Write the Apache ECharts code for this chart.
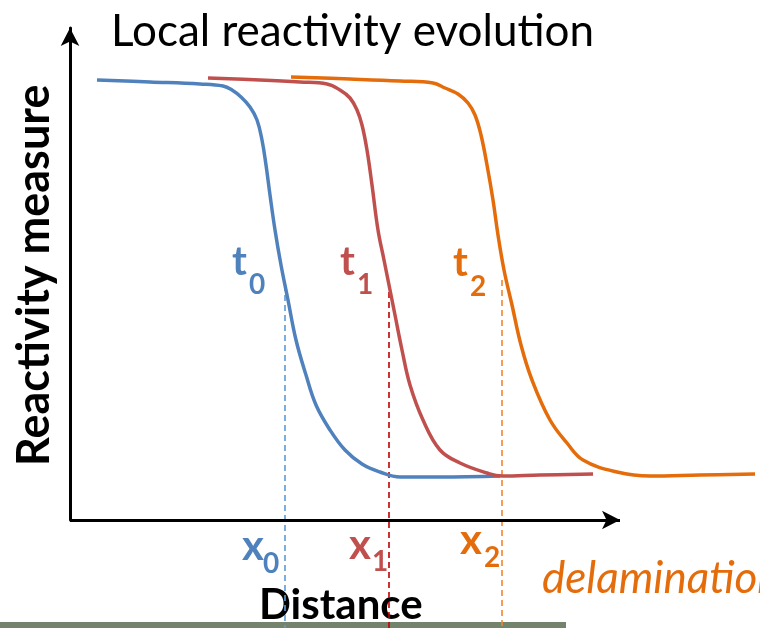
<!DOCTYPE html>
<html><head><meta charset="utf-8">
<script src="https://cdn.jsdelivr.net/npm/echarts@6/dist/echarts.min.js"></script>
<style>html,body{margin:0;padding:0;background:#fff}#c{width:760px;height:628px}</style>
</head><body><div id="c"></div>
<script>
// Schematic units: distance (x) and reactivity measure (y)
const blueCurve = [[27,440],[80,438],[130,436],[153,434],[162,430],[171,423],[180,413],[187,400],[192,380],[196,355],[200,325],[205,290],[211,255],[218,220],[226,180],[236,145],[246,115],[260,90],[275,70],[292,56],[310,48],[330,43],[370,43],[430,44]];
const redCurve = [[138,442],[190,440],[230,438],[257,436],[270,430],[280,422],[287,410],[292,395],[297,370],[302,335],[308,290],[314,260],[319,235],[325,205],[332,170],[340,135],[353,100],[370,70],[390,57],[417,47],[432,44],[470,45],[523,46]];
const orangeCurve = [[221,443],[280,441],[330,439],[363,437],[375,432],[388,426],[398,417],[405,405],[411,385],[417,355],[423,320],[428,285],[434,250],[442,215],[451,175],[462,140],[480,100],[497,77],[513,60],[547,48],[580,44],[630,45],[685,46]];
const markerX = [215, 319, 432];        // x0, x1, x2
const markerTop = [235, 238, 240];
const axisBottom = -108;
const distanceAxisEnd = 550;
const timeLabels = ['0','1','2'];
const colors = ['#4f81bd','#c0504d','#e46c0a'];
const dashColors = ['#5b9bd5','#c00000','#f0852d'];

const chart = echarts.init(document.getElementById('c'));
const series = [];
[blueCurve, redCurve, orangeCurve].forEach((d,i)=>{
  series.push({type:'line', data:d, smooth:0.4, symbol:'none', clip:false,
    lineStyle:{color:colors[i], width:3.5}, z:3});
});
markerX.forEach((x,i)=>{
  series.push({type:'line', data:[[x,markerTop[i]],[x,axisBottom]], symbol:'none', clip:false,
    lineStyle:{color:dashColors[i], width:1.6, type:[6,4]}, z:2});
});
// x-axis with arrow (as a markLine so the plot can extend beyond it)
series.push({type:'line', data:[], symbol:'none', silent:true, z:4,
  markLine:{silent:true, symbol:['none','arrow'], symbolSize:[14,18], label:{show:false},
    lineStyle:{color:'#000', width:3, type:'solid'}, emphasis:{disabled:true},
    data:[[{coord:[0,0]},{coord:[distanceAxisEnd,0]}]]}});

const tPos = [[232,242,249,271],[340,242,357,271],[453,243,470,273]];
const xPos = [[242,525,263,550],[349,524,372,548],[460,519,484,544]];
const graphic = [
  {type:'text', left:111, top:10, style:{text:'Local reactivity evolution', font:'44px Lato', fill:'#000'}},
  {type:'text', x:12, y:466, rotation:Math.PI/2, style:{text:'Reactivity measure', font:'bold 45px Lato', fill:'#000'}},
  {type:'text', left:259, top:584, style:{text:'Distance', font:'bold 42px Lato', fill:'#000'}},
  {type:'text', left:542, top:557, style:{text:'delamination', font:'italic 44px Lato', fill:'#e46c0a'}},
  {type:'rect', shape:{x:0,y:622,width:566,height:6}, style:{fill:'#74836c'}}
];
timeLabels.forEach((s,i)=>{
  const p = tPos[i], q = xPos[i];
  graphic.push({type:'text', left:p[0], top:p[1], style:{text:'t', font:'bold 40px Lato', fill:colors[i]}});
  graphic.push({type:'text', left:p[2], top:p[3], style:{text:s, font:'bold 28px Lato', fill:colors[i]}});
  graphic.push({type:'text', left:q[0], top:q[1], style:{text:'x', font:'bold 42px Lato', fill:colors[i]}});
  graphic.push({type:'text', left:q[2], top:q[3], style:{text:s, font:'bold 28px Lato', fill:colors[i]}});
});
chart.setOption({
  animation:false,
  grid:{left:70, right:0, top:28, bottom:108},
  xAxis:{type:'value', min:0, max:690, axisLine:{show:false}, axisTick:{show:false}, axisLabel:{show:false}, splitLine:{show:false}},
  yAxis:{type:'value', min:0, max:492, axisLine:{show:true, lineStyle:{color:'#000', width:3}, symbol:['none','arrow'], symbolSize:[14,18]}, axisTick:{show:false}, axisLabel:{show:false}, splitLine:{show:false}},
  series:series,
  graphic:graphic
});
</script></body></html>
